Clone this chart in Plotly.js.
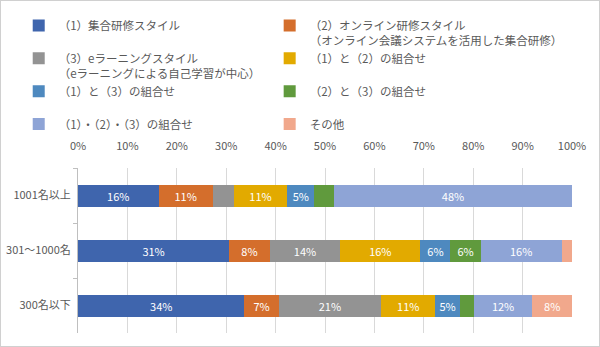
<!DOCTYPE html>
<html>
<head>
<meta charset="utf-8">
<script src="https://cdn.plot.ly/plotly-3.0.1.min.js"></script>
<style>
  html, body { margin: 0; padding: 0; background: #fff; }
  #wrap { position: relative; width: 600px; height: 347px; }
  #chart { width: 600px; height: 347px; }
  #frame { position: absolute; left: 0; top: 0; width: 600px; height: 347px; box-sizing: border-box; border: 1px solid #d0d0d0; pointer-events: none; }
</style>
</head>
<body>
<div id="wrap"><div id="chart"></div><div id="frame"></div></div>
<script>
// Categories (top to bottom)
const categories = ['1001名以上', '301～1000名', '300名以下'];

// Series names (legend texts)
const seriesNames = [
  '（1）集合研修スタイル',
  '（2）オンライン研修スタイル<br>（オンライン会議システムを活用した集合研修）',
  '（3）eラーニングスタイル<br>（eラーニングによる自己学習が中心）',
  '（1）と（2）の組合せ',
  '（1）と（3）の組合せ',
  '（2）と（3）の組合せ',
  '（1）・（2）・（3）の組合せ',
  'その他'
];

// Values (%) per series, order matches categories
const s1 = [16.3, 30.6, 33.7];
const s2 = [11.0, 8.2, 6.9];
const s3 = [4.2, 14.3, 20.8];
const s4 = [10.9, 16.2, 10.9];
const s5 = [5.4, 6.1, 5.0];
const s6 = [4.1, 6.1, 2.8];
const s7 = [48.0, 16.4, 11.9];
const s8 = [0.0, 2.0, 8.0];
const seriesValues = [s1, s2, s3, s4, s5, s6, s7, s8];

const colors = ['#3F65AD', '#D46E2C', '#939393', '#E2AA00', '#4E89BF', '#609A3D', '#8EA4D6', '#F1A88C'];

// Tick labels for the value axis
const tickVals = [0, 10, 20, 30, 40, 50, 60, 70, 80, 90, 100];
const tickText = ['0%', '10%', '20%', '30%', '40%', '50%', '60%', '70%', '80%', '90%', '100%'];

const FONT = '"Noto Sans CJK JP", "Noto Sans", sans-serif';

// Each legend row holds two entries of equal height (two lines)
const padName = n => (n.indexOf('<br>') >= 0 ? n : n + '<br>\u00a0');

const traces = seriesValues.map((vals, i) => ({
  type: 'bar',
  orientation: 'h',
  name: padName(seriesNames[i]),
  legend: (i % 2 === 0) ? 'legend' : 'legend2',
  y: categories,
  x: vals,
  marker: { color: colors[i], line: { width: 0 } },
  text: vals.map(v => v >= 4.5 ? Math.round(v) + '%' : ''),
  textposition: 'inside',
  insidetextanchor: 'middle',
  constraintext: 'none',
  textfont: { color: '#ffffff', size: 11, family: FONT },
  hoverinfo: 'name+x'
}));

const legendCommon = {
  orientation: 'v',
  xanchor: 'left',
  y: 1.949,
  yanchor: 'top',
  itemwidth: 30,
  valign: 'top',
  traceorder: 'normal',
  tracegroupgap: 0,
  font: { size: 11.5, color: '#595959', family: FONT },
  bgcolor: 'rgba(0,0,0,0)'
};

const layout = {
  width: 600,
  height: 347,
  margin: { l: 78, r: 28, t: 157, b: 14 },
  paper_bgcolor: '#ffffff',
  plot_bgcolor: '#ffffff',
  barmode: 'stack',
  bargap: 0.6,
  font: { family: FONT, size: 11, color: '#595959' },
  showlegend: true,
  legend: Object.assign({}, legendCommon, { x: -0.12 }),
  legend2: Object.assign({}, legendCommon, { x: 0.388 }),
  xaxis: {
    side: 'top',
    range: [0, 100],
    tickvals: tickVals,
    ticktext: tickText,
    showgrid: true,
    gridcolor: '#d9d9d9',
    gridwidth: 1,
    zeroline: false,
    showline: false,
    ticks: '',
    ticklabelstandoff: 15,
    tickfont: { size: 11, color: '#595959', family: FONT },
    fixedrange: true
  },
  yaxis: {
    type: 'category',
    categoryorder: 'array',
    categoryarray: categories,
    autorange: 'reversed',
    showline: true,
    linecolor: '#bfbfbf',
    linewidth: 1,
    ticks: 'outside',
    tickson: 'boundaries',
    ticklen: 4,
    tickcolor: '#bfbfbf',
    ticklabelstandoff: 4,
    showgrid: false,
    tickfont: { size: 11, color: '#595959', family: FONT },
    fixedrange: true
  }
};

Plotly.newPlot('chart', traces, layout, { displayModeBar: false, staticPlot: true });
</script>
</body>
</html>
